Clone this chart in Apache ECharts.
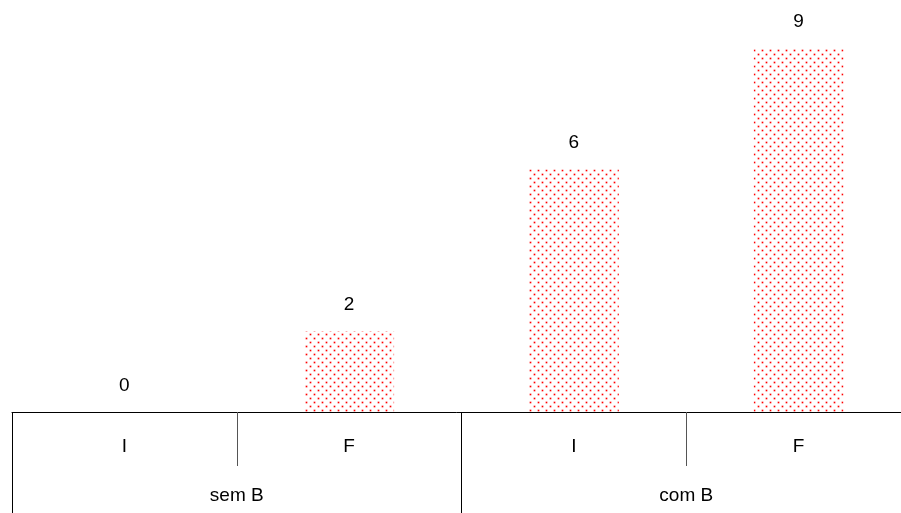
<!DOCTYPE html>
<html>
<head>
<meta charset="utf-8">
<script src="https://cdn.jsdelivr.net/npm/echarts@6/dist/echarts.min.js"></script>
<style>html,body{margin:0;padding:0;background:#fff}#c{width:901px;height:513px}</style>
</head>
<body>
<div id="c"></div>
<script>
const innerCategories = ['I', 'F', 'I', 'F'];
const outerCategories = ['sem B', 'com B'];
const values = [0, 2, 6, 9];

const tile = document.createElement('canvas');
tile.width = 8; tile.height = 8;
const ctx = tile.getContext('2d');
ctx.fillStyle = '#ffffff';
ctx.fillRect(0, 0, 8, 8);
function dot(x, y) {
  ctx.fillStyle = 'rgba(255,90,90,0.5)';
  ctx.fillRect(x - 1, y, 3, 1);
  ctx.fillRect(x, y - 1, 1, 3);
  ctx.fillStyle = 'rgba(255,150,150,0.3)';
  ctx.fillRect(x - 1, y - 1, 1, 1);
  ctx.fillRect(x + 1, y - 1, 1, 1);
  ctx.fillRect(x - 1, y + 1, 1, 1);
  ctx.fillRect(x + 1, y + 1, 1, 1);
  ctx.fillStyle = 'rgba(255,0,0,1)';
  ctx.fillRect(x, y, 1, 1);
}
dot(2, 2);
dot(6, 6);

const chart = echarts.init(document.getElementById('c'), null, {renderer: 'canvas'});
const fontFamily = 'Liberation Sans, Arial, sans-serif';
chart.setOption({
  animation: false,
  grid: {left: 12, width: 899, top: 7.6, bottom: 101, containLabel: false, outerBoundsMode: 'none'},
  xAxis: [
    {
      type: 'category',
      data: innerCategories,
      position: 'bottom',
      axisLine: {show: true, lineStyle: {color: '#000', width: 1}},
      axisTick: {show: true, length: 54, lineStyle: {color: '#555', width: 1}},
      axisLabel: {margin: 25, fontSize: 19, color: '#000', fontFamily: fontFamily}
    },
    {
      type: 'category',
      data: outerCategories,
      position: 'bottom',
      axisLine: {show: false},
      axisTick: {show: true, length: 101, lineStyle: {color: '#000', width: 1}},
      axisLabel: {margin: 74, fontSize: 19, color: '#000', fontFamily: fontFamily}
    }
  ],
  yAxis: {type: 'value', min: 0, max: 10, show: false, splitLine: {show: false}},
  series: [{
    type: 'bar',
    xAxisIndex: 0,
    data: values,
    barWidth: '40%',
    itemStyle: {color: {image: tile, repeat: 'repeat'}},
    label: {show: true, position: 'top', distance: 17, fontSize: 19, color: '#000', fontFamily: fontFamily}
  }]
});
</script>
</body>
</html>
